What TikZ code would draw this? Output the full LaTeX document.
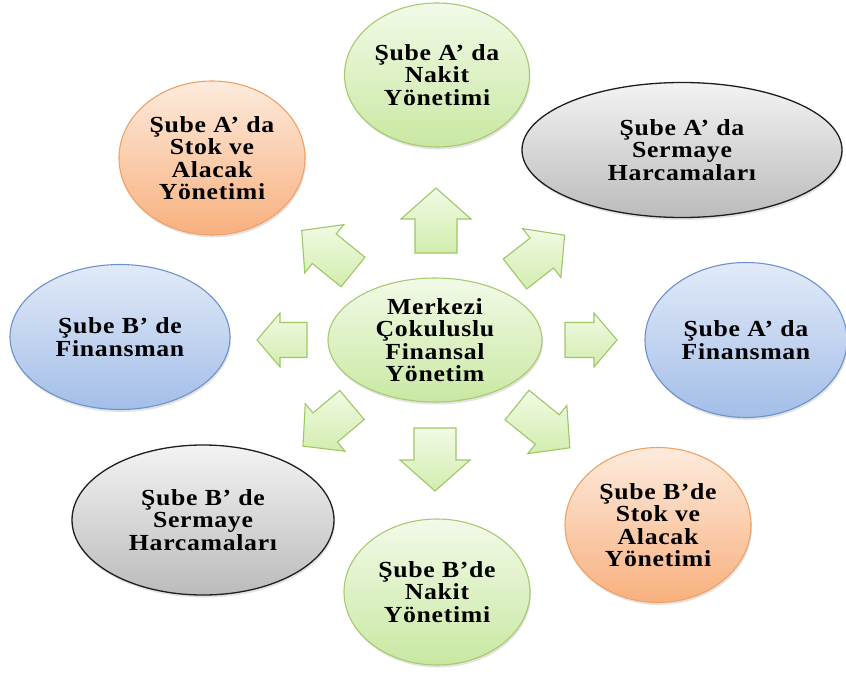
\documentclass[tikz,border=0pt]{standalone}
\usepackage{fontspec}
\setmainfont{Liberation Serif}[FakeStretch=1.12, LetterSpace=3]
\usetikzlibrary{shapes.geometric,shadows}

\definecolor{greentop}{HTML}{F2FAE8}
\definecolor{greenbot}{HTML}{C9E8A2}
\definecolor{greenline}{HTML}{A6CA6E}
\definecolor{orangetop}{HTML}{FDEBDD}
\definecolor{orangebot}{HTML}{F8B07E}
\definecolor{orangeline}{HTML}{F2A064}
\definecolor{bluetop}{HTML}{E2EAF8}
\definecolor{bluebot}{HTML}{A3BEE8}
\definecolor{blueline}{HTML}{6B93CB}
\definecolor{graytop}{HTML}{F3F3F3}
\definecolor{graybot}{HTML}{BBBBBB}
\definecolor{grayline}{HTML}{1E1E1E}
\definecolor{arrowtop}{HTML}{F1FAE4}
\definecolor{arrowbot}{HTML}{D2EDAE}
\definecolor{arrowline}{HTML}{9FC766}

\tikzset{
  bubble/.style={ellipse, inner sep=0pt, align=center, line width=1.1pt,
    font=\bfseries\fontsize{23}{22.5}\selectfont,
    drop shadow={opacity=0.22, shadow xshift=1pt, shadow yshift=-2.5pt}},
  greenb/.style={bubble, draw=greenline, top color=greentop, bottom color=greenbot},
  orangeb/.style={bubble, draw=orangeline, top color=orangetop, bottom color=orangebot},
  blueb/.style={bubble, draw=blueline, top color=bluetop, bottom color=bluebot},
  grayb/.style={bubble, draw=grayline, line width=1.3pt, top color=graytop, bottom color=graybot},
  blockarrow/.style={draw=arrowline, line width=1.1pt, line join=miter,
    top color=arrowtop, bottom color=arrowbot},
  % block arrow: length, shaft half-width, head half-width, head length
  pics/barrow/.style n args={4}{code={
    \path[blockarrow] (0,-#2) -- (#1-#4,-#2) -- (#1-#4,-#3) -- (#1,0)
      -- (#1-#4,#3) -- (#1-#4,#2) -- (0,#2) -- cycle;}}
}

\begin{document}
\begin{tikzpicture}[x=1pt,y=-1pt]
\fill[white] (0,0) rectangle (846,677);
\useasboundingbox (0,0) rectangle (846,677);

% centre
\node[greenb, minimum width=214pt, minimum height=124pt] (merkez) at (435,340)
  {Merkezi\\Çokuluslu\\Finansal\\Yönetim};

% surrounding units
\node[greenb, minimum width=185pt, minimum height=144pt] (nakitA) at (437,75)
  {Şube A’ da\\Nakit\\Yönetimi};
\node[orangeb, minimum width=186pt, minimum height=154pt] (stokA) at (212,158)
  {Şube A’ da\\Stok ve\\Alacak\\Yönetimi};
\node[grayb, minimum width=320pt, minimum height=135pt] (sermA) at (682,150)
  {Şube A’ da\\Sermaye\\Harcamaları};
\node[blueb, minimum width=202pt, minimum height=155pt] (finA) at (746,340)
  {Şube A’ da\\Finansman};
\node[blueb, minimum width=220pt, minimum height=145pt] (finB) at (120,337)
  {Şube B’ de\\Finansman};
\node[grayb, minimum width=262pt, minimum height=150pt] (sermB) at (203,520)
  {Şube B’ de\\Sermaye\\Harcamaları};
\node[greenb, minimum width=186pt, minimum height=146pt] (nakitB) at (437,592)
  {Şube B’de\\Nakit\\Yönetimi};
\node[orangeb, minimum width=186pt, minimum height=155pt] (stokB) at (658,525)
  {Şube B’de\\Stok ve\\Alacak\\Yönetimi};

% block arrows pointing outwards from the centre
\pic[rotate=90] (upA) at (436,253) {barrow={65}{21}{35}{31}};
\pic[rotate=-90] (downA) at (435,428) {barrow={63}{21}{35}{31}};
\pic[rotate=180] (leftA) at (307,340) {barrow={50}{17.5}{27}{23}};
\pic[rotate=0] (rightA) at (565,340) {barrow={52}{17.5}{27}{23}};
\pic[rotate=141] (ulA) at (353,272) {barrow={66}{19}{31}{29}};
\pic[rotate=38] (urA) at (515,274) {barrow={63}{19}{31}{29}};
\pic[rotate=-140] (dlA) at (352,405) {barrow={64}{19}{31}{29}};
\pic[rotate=-39] (drA) at (517,405) {barrow={68}{19}{31}{29}};
\end{tikzpicture}
\end{document}
